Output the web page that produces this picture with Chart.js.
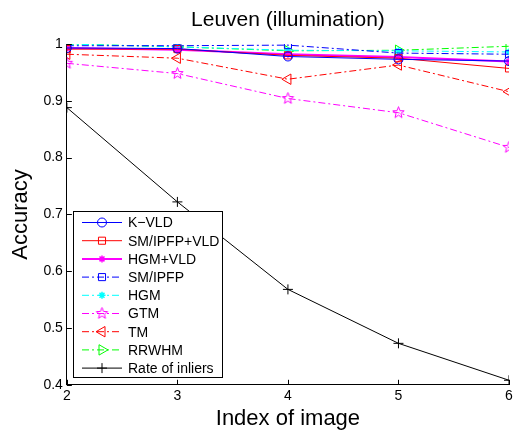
<!DOCTYPE html>
<html>
<head>
<meta charset="utf-8">
<script src="https://cdn.jsdelivr.net/npm/chart.js@4/dist/chart.umd.min.js"></script>
<style>
  html, body { margin: 0; padding: 0; background: #fff; }
  #wrap { width: 518px; height: 434px; }
</style>
</head>
<body>
<div id="wrap"><canvas id="lineChart" width="518" height="434"></canvas></div>
<script>
// image index on the x axis
const imageIndex = [2, 3, 4, 5, 6];

// accuracy per method
const kvld        = [0.993, 0.992, 0.978, 0.973, 0.970];
const smIpfpVld   = [0.991, 0.991, 0.980, 0.975, 0.957];
const hgmVld      = [0.993, 0.990, 0.982, 0.977, 0.969];
const smIpfp      = [0.997, 0.997, 0.998, 0.984, 0.982];
const hgm         = [1.000, 0.995, 0.989, 0.988, 0.986];
const gtm         = [0.966, 0.948, 0.904, 0.879, 0.818];
const tm          = [0.982, 0.975, 0.938, 0.963, 0.916];
const rrwhm       = [1.000, 0.995, 0.988, 0.989, 0.996];
const inlierRate  = [0.888, 0.722, 0.568, 0.473, 0.408];

const yTicks = [0.4, 0.5, 0.6, 0.7, 0.8, 0.9, 1];

const FONT = 'Liberation Sans, Arial, Helvetica, sans-serif';
const dashDot = [7, 3, 2, 3];

// pentagram marker for GTM (no built-in style for it)
function pentagram(color, r) {
  const c = document.createElement('canvas');
  const s = Math.ceil(r * 2 + 3);
  c.width = s; c.height = s;
  const g = c.getContext('2d');
  g.strokeStyle = color;
  g.lineWidth = 1;
  g.beginPath();
  for (let i = 0; i < 10; i++) {
    const rad = i % 2 === 0 ? r : r * 0.42;
    const a = -Math.PI / 2 + i * Math.PI / 5;
    const px = s / 2 + rad * Math.cos(a), py = s / 2 + rad * Math.sin(a);
    i === 0 ? g.moveTo(px, py) : g.lineTo(px, py);
  }
  g.closePath();
  g.stroke();
  return c;
}

function series(label, values, color, opts) {
  return Object.assign({
    label: label,
    data: imageIndex.map((x, i) => ({ x: x, y: values[i] })),
    borderColor: color,
    backgroundColor: 'transparent',
    pointBorderColor: color,
    pointBackgroundColor: 'transparent',
    borderWidth: 1,
    pointBorderWidth: 1,
    pointRadius: 5,
    tension: 0
  }, opts);
}

const datasets = [
  series('K\u2212VLD', kvld, '#0000ff', { pointStyle: 'circle', pointRadius: 4.5 }),
  series('SM/IPFP+VLD', smIpfpVld, '#ff0000', { pointStyle: 'rect', pointRadius: 5 }),
  series('HGM+VLD', hgmVld, '#ff00ff', { pointStyle: 'star', pointRadius: 3.5, borderWidth: 2, pointBorderWidth: 1.5 }),
  series('SM/IPFP', smIpfp, '#0000ff', { pointStyle: 'rect', pointRadius: 5, borderDash: dashDot }),
  series('HGM', hgm, '#00ffff', { pointStyle: 'star', pointRadius: 3.5, borderDash: dashDot, pointBorderWidth: 1.5 }),
  series('GTM', gtm, '#ff00ff', { pointStyle: pentagram('#ff00ff', 6), borderDash: dashDot }),
  series('TM', tm, '#ff0000', { pointStyle: 'triangle', rotation: -90, pointRadius: 6, borderDash: dashDot }),
  series('RRWHM', rrwhm, '#00ff00', { pointStyle: 'triangle', rotation: 90, pointRadius: 6, borderDash: dashDot }),
  series('Rate of inliers', inlierRate, '#000000', { pointStyle: 'cross', pointRadius: 5 })
];

// inward tick marks, title over the plot and the boxed legend inside the plot
const matlabLook = {
  id: 'matlabLook',
  afterDraw(chart) {
    const ctx = chart.ctx;
    const area = chart.chartArea;
    const xs = chart.scales.x, ys = chart.scales.y;
    ctx.save();
    ctx.strokeStyle = '#000';
    ctx.lineWidth = 1;
    ctx.beginPath();
    imageIndex.forEach(v => {
      const px = Math.round(xs.getPixelForValue(v)) + 0.5;
      ctx.moveTo(px, area.bottom); ctx.lineTo(px, area.bottom - 5);
    });
    yTicks.forEach(v => {
      const py = Math.round(ys.getPixelForValue(v)) + 0.5;
      ctx.moveTo(area.left, py); ctx.lineTo(area.left + 5, py);
    });
    ctx.stroke();

    // title
    ctx.fillStyle = '#000';
    ctx.font = '21px ' + FONT;
    ctx.textAlign = 'center';
    ctx.textBaseline = 'alphabetic';
    ctx.fillText('Leuven (illumination)', (area.left + area.right) / 2, 26);

    // legend
    const bx = 73, by = 211, bw = 149, bh = 166;
    ctx.fillStyle = '#fff';
    ctx.fillRect(bx, by, bw, bh);
    ctx.strokeRect(bx + 0.5, by + 0.5, bw, bh);
    ctx.font = '14px ' + FONT;
    ctx.textAlign = 'left';
    ctx.textBaseline = 'middle';
    chart.data.datasets.forEach((ds, i) => {
      const ry = by + 11.5 + i * 18.2;
      ctx.save();
      ctx.strokeStyle = ds.borderColor;
      ctx.lineWidth = ds.borderWidth;
      ctx.setLineDash(ds.borderDash || []);
      ctx.beginPath();
      ctx.moveTo(82, ry); ctx.lineTo(122, ry);
      ctx.stroke();
      ctx.setLineDash([]);
      ctx.strokeStyle = ds.pointBorderColor;
      ctx.fillStyle = ds.pointBackgroundColor;
      ctx.lineWidth = ds.pointBorderWidth;
      Chart.helpers.drawPoint(ctx, {
        pointStyle: ds.pointStyle,
        radius: ds.pointRadius,
        rotation: ds.rotation || 0,
        borderWidth: ds.pointBorderWidth
      }, 102, ry);
      ctx.restore();
      ctx.fillStyle = '#000';
      ctx.fillText(ds.label, 128, ry + 1);
    });
    ctx.restore();
  }
};

new Chart(document.getElementById('lineChart').getContext('2d'), {
  type: 'line',
  data: { datasets: datasets },
  options: {
    responsive: false,
    animation: false,
    layout: { padding: { top: 44, right: 9, left: 8, bottom: 2 } },
    plugins: {
      legend: { display: false },
      title: { display: false },
      tooltip: { enabled: false }
    },
    scales: {
      x: {
        type: 'linear',
        min: 2,
        max: 6,
        afterBuildTicks: axis => { axis.ticks = imageIndex.map(v => ({ value: v })); },
        grid: { display: false, drawTicks: false },
        border: { display: true, color: '#000', width: 1 },
        ticks: { color: '#000', font: { family: FONT, size: 14 }, padding: 3 },
        title: { display: true, text: 'Index of image', color: '#000', font: { family: FONT, size: 22 }, padding: { top: -2, bottom: 0 } }
      },
      y: {
        min: 0.4,
        max: 1,
        afterBuildTicks: axis => { axis.ticks = yTicks.map(v => ({ value: v })); },
        grid: { display: false, drawTicks: false },
        border: { display: true, color: '#000', width: 1 },
        ticks: {
          color: '#000',
          font: { family: FONT, size: 14 },
          padding: 4,
          callback: v => String(Math.round(v * 10) / 10)
        },
        title: { display: true, text: 'Accuracy', color: '#000', font: { family: FONT, size: 22 }, padding: { top: 0, bottom: 5 } }
      }
    }
  },
  plugins: [matlabLook]
});
</script>
</body>
</html>
